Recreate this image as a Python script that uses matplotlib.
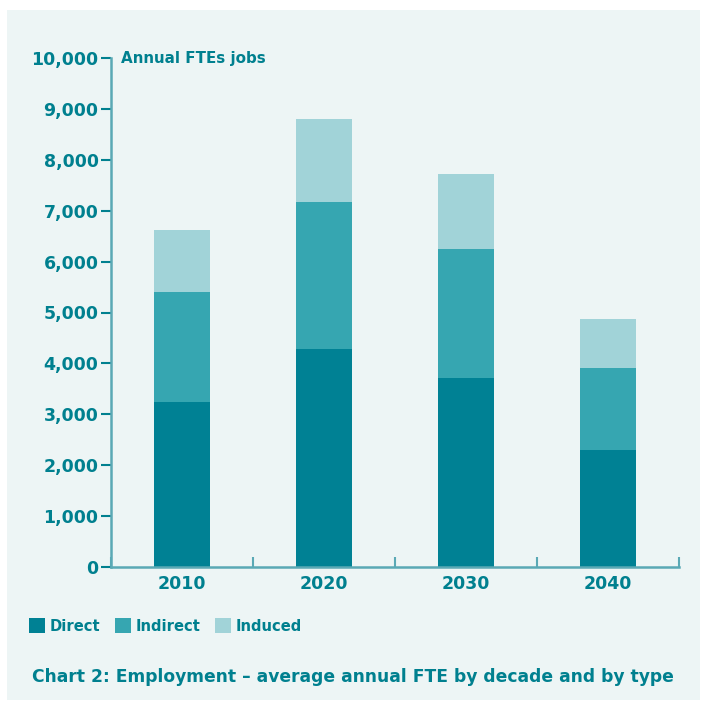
import numpy as np
import matplotlib.pyplot as plt
from matplotlib.patches import Rectangle

decades = ["2010", "2020", "2030", "2040"]
direct = [3240, 4280, 3710, 2300]
indirect = [2160, 2890, 2540, 1610]
induced = [1220, 1630, 1470, 960]
series_names = ["Direct", "Indirect", "Induced"]
colors = ["#008194", "#36a6b1", "#a1d3d8"]
text_color = "#00808f"
panel_color = "#edf5f5"

plt.rcParams['font.family'] = ['DejaVu Sans']

fig = plt.figure(figsize=(7.04, 7.02), dpi=100)
fig.patch.set_facecolor("white")
fig.patches.append(Rectangle((7 / 704, 1 - 700 / 702), 693 / 704, 690 / 702,
                             transform=fig.transFigure, facecolor=panel_color,
                             edgecolor="none", zorder=-10))

ax = fig.add_axes([111 / 704, 1 - 567 / 702, 568 / 704, 509 / 702])
ax.set_facecolor("none")

x = np.arange(len(decades))
bottom = np.zeros(len(decades))
for name, vals, c in zip(series_names, [direct, indirect, induced], colors):
    ax.bar(x, vals, width=0.4, bottom=bottom, color=c, label=name, zorder=2)
    bottom += np.array(vals)

ax.set_xlim(-0.5, 3.5)
ax.set_ylim(0, 10000)
ax.set_yticks(np.arange(0, 10001, 1000))
ax.set_yticklabels([f"{v:,}" for v in range(0, 10001, 1000)],
                   fontsize=12.5, fontweight="bold", color=text_color)
ax.set_xticks(np.arange(-0.5, 3.6, 1))
ax.set_xticklabels([])
ax.xaxis.set_minor_locator(plt.FixedLocator(x))
ax.set_xticklabels(decades, minor=True, fontsize=12.5, fontweight="bold",
                   color=text_color)
ax.tick_params(axis="x", which="minor", length=0, pad=6)
ax.tick_params(axis="x", which="major", length=7, width=1.5, color="#5aa9b5",
               direction="in")
ax.tick_params(axis="y", length=7, width=1.5, color=text_color, pad=2)

for side in ["top", "right"]:
    ax.spines[side].set_visible(False)
for side in ["left", "bottom"]:
    ax.spines[side].set_color("#5aa9b5")
    ax.spines[side].set_linewidth(1.8)

ax.text(0.018, 1.0, "Annual FTEs jobs", transform=ax.transAxes, fontsize=10.9,
        fontweight="bold", color=text_color, va="center", ha="left")

handles, labels = ax.get_legend_handles_labels()
fig.legend(handles, labels, loc="center left", bbox_to_anchor=(16 / 704, 1 - 626 / 702),
           ncol=3, frameon=False, handlelength=1.05, handleheight=1.2,
           handletextpad=0.35, columnspacing=1.0, labelcolor=text_color,
           prop={"weight": "bold", "size": 10.6})

fig.text(32 / 704, 1 - 677 / 702,
         "Chart 2: Employment \u2013 average annual FTE by decade and by type",
         fontsize=12.3, fontweight="bold", color=text_color, va="center", ha="left")

fig.savefig("out.png", dpi=100, facecolor="white")
